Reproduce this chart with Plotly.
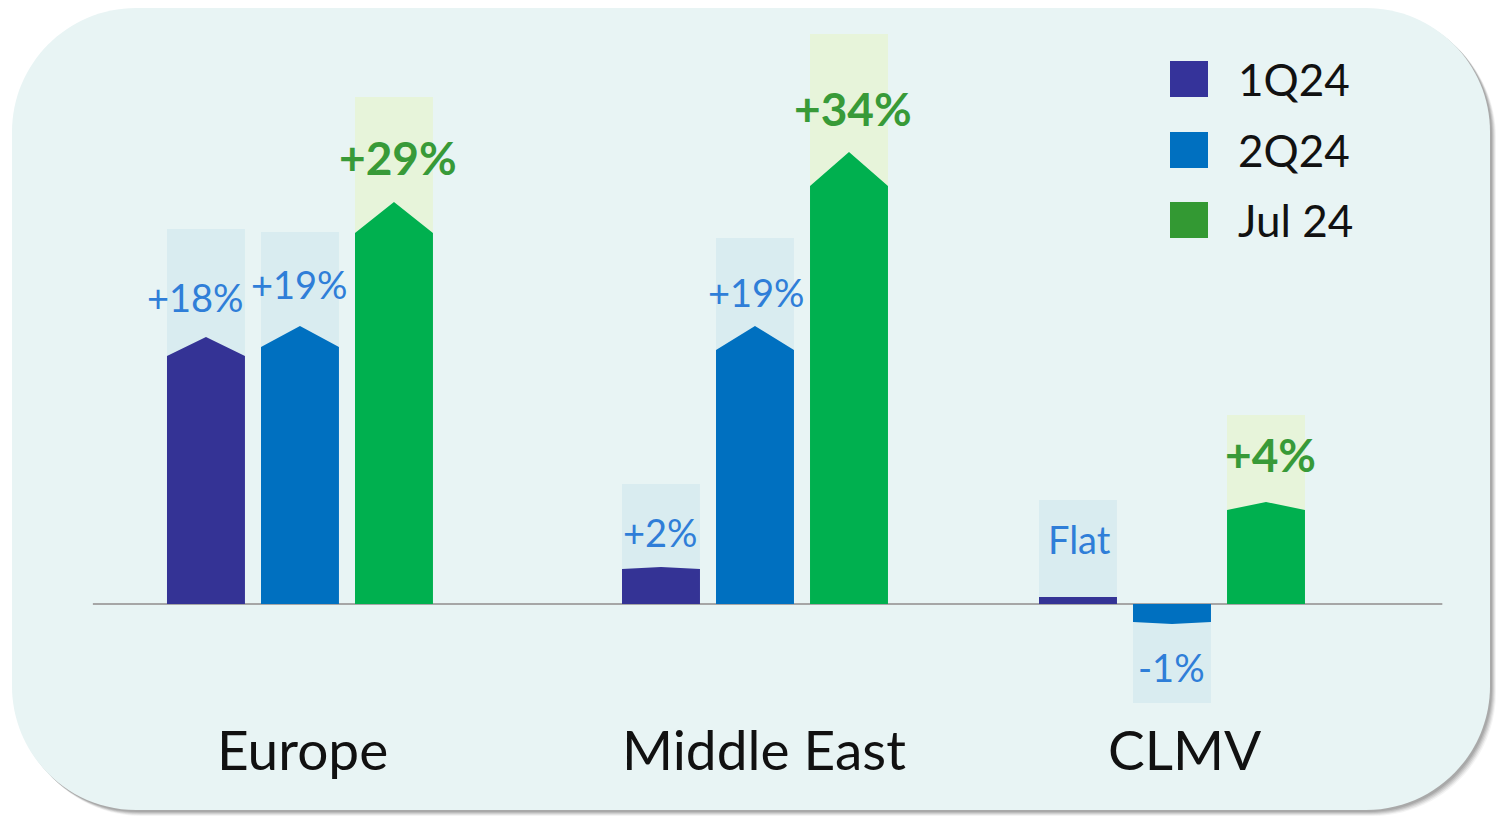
import plotly.graph_objects as go

# ---------------- data ----------------
regions = ["Europe", "Middle East", "CLMV"]
series = ["1Q24", "2Q24", "Jul 24"]
# bar height to the arrow tip (index units)
vals_1q24 = [26.7, 3.7, 0.7]
vals_2q24 = [27.8, 27.8, -2.0]
vals_jul24 = [40.2, 45.2, 10.2]
# height of the arrow point
tip_1q24 = [1.9, 0.2, 0.0]
tip_2q24 = [2.1, 2.4, 0.2]
tip_jul24 = [3.1, 3.4, 0.8]
# growth labels
lab_1q24 = ["+18%", "+2%", "Flat"]
lab_2q24 = ["+19%", "+19%", "-1%"]
lab_jul24 = ["+29%", "+34%", "+4%"]

# ---------------- style / layout ----------------
W, H = 1499, 820
FONT = "Lato"
PX_PER_X = 436.0
bar_colors = ["#343395", "#0070c0", "#00b04f"]
legend_colors = ["#35339a", "#0070c0", "#339933"]
box_colors = ["#d9ecf0", "#d9ecf0", "#e7f4da"]
label_colors = ["#2f7ed8", "#2f7ed8", "#389a38"]
label_fonts = [dict(size=38, bold=False), dict(size=38, bold=False), dict(size=46, bold=True)]
group_pos = [0.0, 1.0436, 2.0]
series_off = [-0.2156, 0.0, 0.2156]
half_w = 0.0894
label_dy = [[4.0, 3.5, 5.8], [4.2, 3.4, 4.3], [4.5, 4.4, 4.8]]
label_dx_px = [[-10, 0, 2], [0, 2, 0], [4, 4, 4]]
box_dy = [[10.8, 8.3, 9.7], [9.4, 8.8, 7.9], [10.5, 11.8, 8.7]]
cat_dx_px = [3, 9, 13]
x_range = [-0.688, 2.750]
y_range = [-21.6, 60.4]

vals = [vals_1q24, vals_2q24, vals_jul24]
tips = [tip_1q24, tip_2q24, tip_jul24]
labs = [lab_1q24, lab_2q24, lab_jul24]


def px(x):
    return x / W


def py(y):
    return 1 - y / H


def rounded_rect(x0, y0, x1, y1, r):
    k = 0.5523 * r
    pts = [
        f"M {px(x0 + r)},{py(y0)}",
        f"L {px(x1 - r)},{py(y0)}",
        f"C {px(x1 - r + k)},{py(y0)} {px(x1)},{py(y0 + r - k)} {px(x1)},{py(y0 + r)}",
        f"L {px(x1)},{py(y1 - r)}",
        f"C {px(x1)},{py(y1 - r + k)} {px(x1 - r + k)},{py(y1)} {px(x1 - r)},{py(y1)}",
        f"L {px(x0 + r)},{py(y1)}",
        f"C {px(x0 + r - k)},{py(y1)} {px(x0)},{py(y1 - r + k)} {px(x0)},{py(y1 - r)}",
        f"L {px(x0)},{py(y0 + r)}",
        f"C {px(x0)},{py(y0 + r - k)} {px(x0 + r - k)},{py(y0)} {px(x0 + r)},{py(y0)}",
        "Z",
    ]
    return " ".join(pts)


shapes = []
# shadow layers
for d, op in [(6, 0.08), (5, 0.12), (4, 0.16), (3, 0.20), (2, 0.24)]:
    shapes.append(dict(type="path", xref="paper", yref="paper", layer="below",
                       path=rounded_rect(12 + d, 8 + d, 1490 + d, 810 + d, 124),
                       fillcolor=f"rgba(110,110,110,{op})", line=dict(width=0)))
# card background
shapes.append(dict(type="path", xref="paper", yref="paper", layer="below",
                   path=rounded_rect(12, 8, 1490, 810, 124),
                   fillcolor="#e8f4f4", line=dict(width=0)))

annotations = []
fig = go.Figure()

for s in range(3):
    xs, ys = [], []
    for g in range(3):
        v = vals[s][g]
        t = tips[s][g]
        sign = 1 if v >= 0 else -1
        cx = group_pos[g] + series_off[s]
        shoulder = v - sign * t
        # label box behind bar
        shapes.append(dict(type="rect", xref="x", yref="y", layer="below",
                           x0=cx - half_w, x1=cx + half_w, y0=0,
                           y1=v + sign * box_dy[s][g],
                           fillcolor=box_colors[s], line=dict(width=0)))
        # arrow-shaped bar polygon
        xs += [cx - half_w, cx - half_w, cx, cx + half_w, cx + half_w, cx - half_w, None]
        ys += [0, shoulder, v, shoulder, 0, 0, None]
        # label
        annotations.append(dict(x=cx + label_dx_px[s][g] / PX_PER_X,
                                y=v + sign * label_dy[s][g], xref="x", yref="y",
                                text=(f"<b>{labs[s][g]}</b>" if label_fonts[s]["bold"] else labs[s][g]),
                                showarrow=False, xanchor="center", yanchor="middle",
                                font=dict(family=FONT, size=label_fonts[s]["size"],
                                          color=label_colors[s])))
    fig.add_trace(go.Scatter(x=xs, y=ys, fill="toself", mode="lines",
                             fillcolor=bar_colors[s], line=dict(width=0, color=bar_colors[s]),
                             name=series[s], showlegend=False, hoverinfo="skip"))

# baseline
shapes.append(dict(type="line", xref="x", yref="y", layer="below",
                   x0=-0.475, x1=2.62, y0=0, y1=0,
                   line=dict(color="#a6a6a6", width=2)))

# category labels
for g, name in enumerate(regions):
    annotations.append(dict(x=group_pos[g] + cat_dx_px[g] / PX_PER_X, y=-14.5,
                            xref="x", yref="y", text=name,
                            showarrow=False, xanchor="center", yanchor="middle",
                            font=dict(family=FONT, size=55, color="#111111")))

# custom legend
leg_rows = [79, 150, 220]
for i, name in enumerate(series):
    cy = leg_rows[i]
    shapes.append(dict(type="rect", xref="paper", yref="paper",
                       x0=px(1170), x1=px(1208), y0=py(cy + 18), y1=py(cy - 18),
                       fillcolor=legend_colors[i], line=dict(width=0)))
    annotations.append(dict(x=px(1236), y=py(cy), xref="paper", yref="paper", text=name,
                            showarrow=False, xanchor="left", yanchor="middle",
                            font=dict(family=FONT, size=44, color="#111111")))

fig.update_layout(
    width=W, height=H,
    margin=dict(l=0, r=0, t=0, b=0),
    paper_bgcolor="white", plot_bgcolor="rgba(0,0,0,0)",
    xaxis=dict(range=x_range, visible=False, fixedrange=True),
    yaxis=dict(range=y_range, visible=False, fixedrange=True),
    shapes=shapes, annotations=annotations, showlegend=False,
)

fig.write_html("out.html")
